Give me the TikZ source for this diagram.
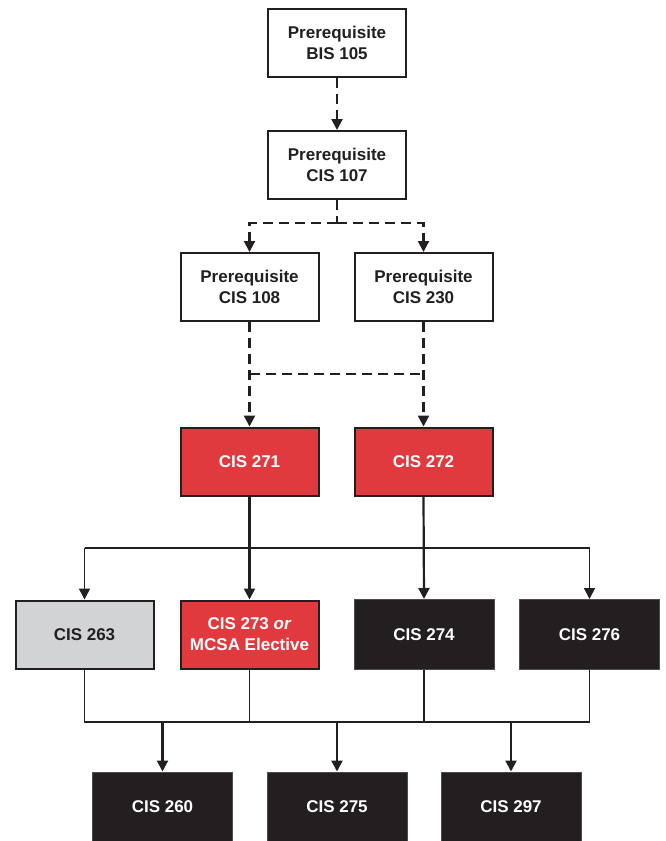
\documentclass[tikz,border=0pt]{standalone}
\usepackage{fontspec}
\setmainfont{Liberation Sans}
\usetikzlibrary{arrows.meta}
\definecolor{cred}{HTML}{E03A3E}
\definecolor{cblack}{HTML}{231F20}
\definecolor{cgray}{HTML}{D1D3D4}
\tikzset{
  box/.style={draw=cblack, line width=2pt, minimum width=138pt, minimum height=68pt,
    inner sep=0pt, align=center, font=\fontsize{17}{21}\selectfont\bfseries, text=cblack},
  whitebox/.style={box, fill=white},
  redbox/.style={box, fill=cred, text=white},
  graybox/.style={box, fill=cgray},
  blackbox/.style={box, fill=cblack, draw=cblack!80, line width=1pt, minimum width=140pt, minimum height=70pt, text=white},
  conn/.style={draw=cblack, line width=2.2pt},
  dashconn/.style={conn, dash pattern=on 10pt off 6pt},
  arr/.style={-{Triangle[length=11pt,width=11pt]}},
}
\begin{document}
\begin{tikzpicture}[x=1pt,y=-1pt]
\useasboundingbox (0,0) rectangle (665,841);
% top prerequisites
\node[whitebox] (bis) at (337,43) {Prerequisite\\BIS 105};
\node[whitebox] (c107) at (337,165) {Prerequisite\\CIS 107};
\node[whitebox] (c108) at (249.5,287) {Prerequisite\\CIS 108};
\node[whitebox] (c230) at (423.5,287) {Prerequisite\\CIS 230};
% red
\node[redbox] (c271) at (249.5,461.5) {CIS 271};
\node[redbox] (c272) at (423.5,461.5) {CIS 272};
% row 4
\node[graybox] (c263) at (84.5,634.5) {CIS 263};
\node[redbox] (c273) at (249.5,634.5) {CIS 273 \textit{or}\\MCSA Elective};
\node[blackbox] (c274) at (424,634.5) {CIS 274};
\node[blackbox] (c276) at (589.5,634.5) {CIS 276};
% row 5
\node[blackbox] (c260) at (162.5,807) {CIS 260};
\node[blackbox] (c275) at (337,807) {CIS 275};
\node[blackbox] (c297) at (511,807) {CIS 297};
% coordinates
\coordinate (j1) at (337,223);
\coordinate (j2) at (249.5,374);
\coordinate (j3) at (423.5,374);
\coordinate (b1l) at (84.5,548);
\coordinate (b1r) at (589.5,548);
\coordinate (b2l) at (84.5,722);
\coordinate (b2r) at (589.5,722);
\coordinate (b2a) at (249.5,722);
\coordinate (b2b) at (424,722);
% dashed connectors
\draw[dashconn,arr] (bis.south) -- (c107.north);
\draw[dashconn] (c107.south) -- (j1);
\draw[dashconn,arr] (j1) -| (c108.north);
\draw[dashconn,arr] (j1) -| (c230.north);
\draw[dashconn,arr] (c108.south) -- (c271.north);
\draw[dashconn,arr] (c230.south) -- (c272.north);
\draw[dashconn] (j2) -- (j3);
% solid connectors
\draw[conn,arr] (c271.south) -- (c273.north);
\draw[conn,arr] (c272.south) -- (c274.north);
\draw[conn,line width=1.8pt,arr] (b1l) -- (c263.north);
\draw[conn,line width=1.8pt] (b1l) -- (b1r);
\draw[conn,line width=1.8pt,arr] (b1r) -- (c276.north);
% bottom bus
\draw[conn,line width=1.8pt] (c263.south) -- (b2l) -- (b2r) -- (c276.south);
\draw[conn,line width=1.8pt] (c273.south) -- (b2a);
\draw[conn,line width=1.8pt] (c274.south) -- (b2b);
\draw[conn,arr] (b2l -| c260.north) -- (c260.north);
\draw[conn,arr] (b2l -| c275.north) -- (c275.north);
\draw[conn,arr] (b2l -| c297.north) -- (c297.north);
\end{tikzpicture}
\end{document}
